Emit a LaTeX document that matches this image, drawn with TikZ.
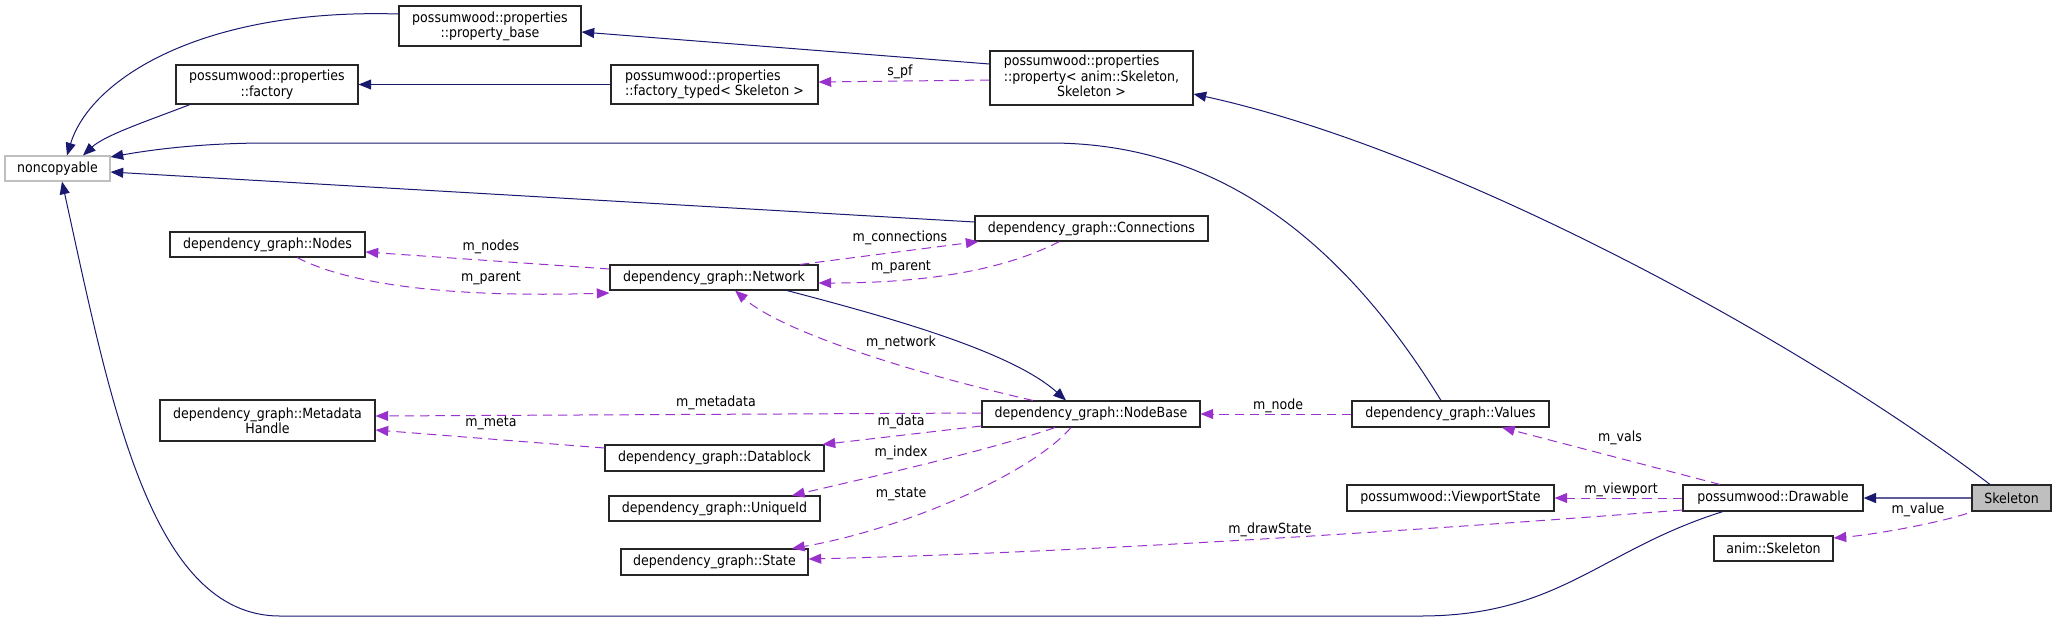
\documentclass[tikz,border=0pt]{standalone}
\usepackage{fontspec}
\setmainfont{DejaVu Sans Condensed}
\usetikzlibrary{arrows.meta}
\definecolor{inhblue}{HTML}{191970}
\definecolor{usepurple}{HTML}{9932CC}
\definecolor{nodegray}{HTML}{BFBFBF}
\tikzset{
  cls/.style={draw=black!85, line width=0.8pt, fill=white, inner sep=0pt, align=center, font=\fontsize{10.5}{11.5}\selectfont},
  ext/.style={cls, draw=nodegray},
  cur/.style={cls, fill=nodegray},
  sz/.style 2 args={minimum width=#1*0.75pt, minimum height=#2*0.75pt},
  inh/.style={draw=inhblue, line width=0.75pt, -{Triangle[length=9.5pt,width=7.5pt]}},
  use/.style={draw=usepurple, line width=0.75pt, dash pattern=on 7pt off 4.5pt, -{Triangle[length=9.5pt,width=7.5pt]}},
  lbl/.style={inner sep=0pt, font=\fontsize{10.5}{11.5}\selectfont}
}

\begin{document}
\begin{tikzpicture}[x=0.75pt, y=-0.75pt]
  \useasboundingbox (0,0) rectangle (2056,622);

  \node[cls, sz={182}{40}] (pbase) at (490,26) {possumwood::properties\\::property\_base};
  \node[cls, sz={182}{39}] (factory) at (267,84.5) {possumwood::properties\\::factory};
  \node[cls, sz={207}{39}, align=left] (ftyped) at (714.5,84.5) {possumwood::properties\\::factory\_typed< Skeleton >};
  \node[cls, sz={203}{54}] (prop) at (1091.5,78) {\begin{tabular}{@{}l@{}}possumwood::properties\\::property< anim::Skeleton,\\\multicolumn{1}{@{}c@{}}{Skeleton >}\end{tabular}};
  \node[ext, sz={105}{25}] (noncop) at (57.5,168.5) {noncopyable};
  \node[cls, sz={233}{25}] (conns) at (1091.5,228.5) {dependency\_graph::Connections};
  \node[cls, sz={195}{25}] (nodes) at (267.5,244.5) {dependency\_graph::Nodes};
  \node[cls, sz={208}{25}] (network) at (714,277.5) {dependency\_graph::Network};
  \node[cls, sz={215}{41}] (meta) at (267.5,420.5) {dependency\_graph::Metadata\\Handle};
  \node[cls, sz={218}{26}] (nodebase) at (1091,414) {dependency\_graph::NodeBase};
  \node[cls, sz={197}{26}] (values) at (1450.5,414) {dependency\_graph::Values};
  \node[cls, sz={219}{26}] (datablock) at (714.5,458) {dependency\_graph::Datablock};
  \node[cls, sz={211}{25}] (uniqueid) at (714.5,508.5) {dependency\_graph::UniqueId};
  \node[cls, sz={187}{26}] (state) at (714.5,562) {dependency\_graph::State};
  \node[cls, sz={207}{26}] (viewport) at (1450.5,498) {possumwood::ViewportState};
  \node[cls, sz={180}{26}] (drawable) at (1773,498) {possumwood::Drawable};
  \node[cur, sz={79}{26}] (skel) at (2011.5,498) {Skeleton};
  \node[cls, sz={119}{25}] (animskel) at (1773.5,548.5) {anim::Skeleton};

  \draw[inh] ([shift={(0,-14)}]prop.west) -- ([shift={(0,6)}]pbase.east);
  \draw[inh] (ftyped.west) -- (factory.east);
  \draw[use] ([shift={(0,2)}]prop.west) -- ([shift={(0,-2.5)}]ftyped.east);
  \node[lbl] (lspf) at (900,72) {s\_pf};

  \draw[inh] ([shift={(0,-12)}]pbase.west) .. controls (200,8) and (90,80) .. ([shift={(9.5,0)}]noncop.north);
  \draw[inh] ([shift={(-77,0)}]factory.south) .. controls (150,120) and (105,135) .. ([shift={(25.5,0)}]noncop.north);
  \draw[inh] ([shift={(0,-6.5)}]conns.west) -- ([shift={(0,3.5)}]noncop.east);
  \draw[inh] ([shift={(-9.5,0)}]values.north) .. controls (1330,220) and (1200,143) .. (1050,143) -- (268,143) .. controls (200,143) and (150,150) .. ([shift={(0,-11.5)}]noncop.east);
  \draw[inh] ([shift={(73,0)}]network.south) .. controls (880,315) and (1010,350) .. ([shift={(-25,0)}]nodebase.north);
  \draw[inh] ([shift={(-21.5,0)}]skel.north) .. controls (1800,340) and (1450,150) .. ([shift={(0,16)}]prop.east);
  \draw[inh] ([shift={(-50,0)}]drawable.south) .. controls (1600,550) and (1560,616) .. (1420,616) -- (280,616) .. controls (150,616) and (110,400) .. ([shift={(4.5,0)}]noncop.south);
  \draw[draw=inhblue!70, line width=1.5pt, -{Triangle[length=9.5pt,width=7.5pt,color=inhblue]}] (skel.west) -- (drawable.east);

  \draw[use] ([shift={(-58,0)}]nodebase.north) .. controls (900,370) and (780,330) .. ([shift={(21,0)}]network.south);
  \node[lbl] (lnetwork) at (901,343) {m\_network};
  \draw[use] ([shift={(0,-8.5)}]network.west) -- ([shift={(0,7.5)}]nodes.east);
  \node[lbl] (lnodes) at (491,247) {m\_nodes};
  \draw[use] ([shift={(29.5,0)}]nodes.south) .. controls (360,290) and (480,297) .. ([shift={(0,15.5)}]network.west);
  \node[lbl] (lparentn) at (491,278) {m\_parent};
  \draw[use] ([shift={(86,0)}]network.north) -- ([shift={(-113,0)}]conns.south);
  \node[lbl] (lconns) at (900,238) {m\_connections};
  \draw[use] ([shift={(-32,0)}]conns.south) .. controls (1000,272) and (920,283) .. ([shift={(0,5.5)}]network.east);
  \node[lbl] (lparentc) at (901,267) {m\_parent};

  \draw[use] ([shift={(0,-1)}]nodebase.west) -- ([shift={(0,-4.5)}]meta.east);
  \node[lbl] (lmetadata) at (716,403) {m\_metadata};
  \draw[use] ([shift={(0,12)}]nodebase.west) -- ([shift={(-2,0)}]datablock.north east);
  \node[lbl] (ldata) at (901,422) {m\_data};
  \draw[use] ([shift={(0,-10)}]datablock.west) -- ([shift={(0,9.5)}]meta.east);
  \node[lbl] (lmeta) at (491,423) {m\_meta};
  \draw[use] ([shift={(-36,0)}]nodebase.south) .. controls (990,450) and (880,475) .. ([shift={(77.5,0)}]uniqueid.north);
  \node[lbl] (lindex) at (901,453) {m\_index};
  \draw[use] ([shift={(-20,0)}]nodebase.south) .. controls (1030,475) and (900,530) .. ([shift={(77.5,0)}]state.north);
  \node[lbl] (lstate) at (901,494) {m\_state};

  \draw[use] (values.west) -- (nodebase.east);
  \node[lbl] (lnode) at (1278,406) {m\_node};
  \draw[use] ([shift={(-53,0)}]drawable.north) -- ([shift={(51.5,0)}]values.south);
  \node[lbl] (lvals) at (1620,438) {m\_vals};
  \draw[use] (drawable.west) -- (viewport.east);
  \node[lbl] (lviewport) at (1621,490) {m\_viewport};
  \draw[use] ([shift={(0,12)}]drawable.west) .. controls (1450,528) and (1100,552) .. ([shift={(0,-3)}]state.east);
  \node[lbl] (ldrawstate) at (1270,530) {m\_drawState};
  \draw[use] ([shift={(-4.5,2)}]skel.south west) .. controls (1930,525) and (1870,535) .. ([shift={(0,-10.5)}]animskel.east);
  \node[lbl] (lvalue) at (1918,510) {m\_value};
\end{tikzpicture}
\end{document}
